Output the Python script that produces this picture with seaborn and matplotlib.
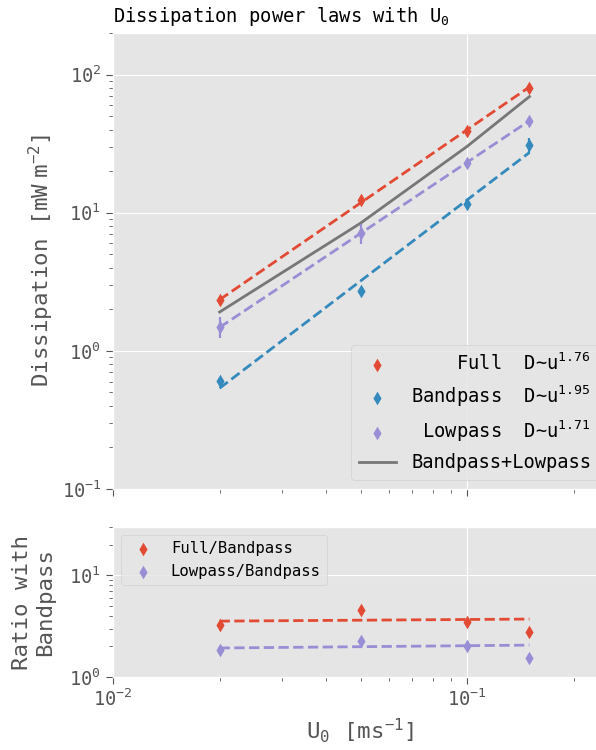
import numpy as np
import matplotlib
matplotlib.use("Agg")
import matplotlib.pyplot as plt
import seaborn as sns

# Mean flow speed U0 [m/s]
u0 = [0.02, 0.05, 0.10, 0.15]

# Dissipation [mW m^-2] per band
full = [2.33, 12.3, 38.8, 80.5]
bandpass = [0.607, 2.71, 11.5, 30.7]
lowpass = [1.49, 7.11, 22.8, 46.5]
full_err = [0.10, 0.5, 1.5, 4.0]
bandpass_err = [0.03, 0.15, 0.5, 3.8]
lowpass_err = [0.26, 1.2, 1.0, 2.0]
band_plus_low = [1.91, 8.4, 30.2, 69.3]

# Power-law exponents D ~ u^b
exp_full = 1.76
exp_bandpass = 1.95
exp_lowpass = 1.71

# Ratios relative to the bandpass dissipation
ratio_full = [3.28, 4.53, 3.47, 2.77]
ratio_low = [1.83, 2.26, 2.00, 1.55]
ratio_u = [0.02, 0.15]
ratio_full_fit = [3.55, 3.72]
ratio_low_fit = [1.93, 2.06]

labels_top = ["    Full  D~u$^{1.76}$",
              "Bandpass  D~u$^{1.95}$",
              " Lowpass  D~u$^{1.71}$",
              "Bandpass+Lowpass"]
labels_bottom = ["Full/Bandpass", "Lowpass/Bandpass"]

plt.style.use("ggplot")
plt.rcParams["font.family"] = ["DejaVu Sans Mono", "DejaVu Sans"]
plt.rcParams["font.size"] = 13.5
plt.rcParams["mathtext.default"] = "regular"
plt.rcParams["xtick.major.size"] = 5
plt.rcParams["ytick.major.size"] = 5
plt.rcParams["xtick.minor.size"] = 2.7
plt.rcParams["ytick.minor.size"] = 2.7

c_full, c_band, c_low, c_sum = "#E24A33", "#348ABD", "#988ED5", "#777777"


def power_fit(x, y, b):
    """Line D = A u^b with A chosen by least squares in log space."""
    lx, ly = np.log10(x), np.log10(y)
    a = np.mean(ly) - b * np.mean(lx)
    xs = np.array([min(x), max(x)])
    return xs, 10 ** (a + b * np.log10(xs))


fig = plt.figure(figsize=(5.96, 7.5), dpi=100)
ax1 = fig.add_axes([113 / 596, 261 / 750, 495 / 596, 456 / 750])
ax2 = fig.add_axes([113 / 596, 73 / 750, 495 / 596, 150 / 750], sharex=ax1)

for ax in (ax1, ax2):
    ax.set_xscale("log")
    ax.set_yscale("log")

ms = 48
handles = []
series = [(full, full_err, exp_full, c_full),
          (bandpass, bandpass_err, exp_bandpass, c_band),
          (lowpass, lowpass_err, exp_lowpass, c_low)]
for vals, err, b, col in series:
    xs, ys = power_fit(u0, vals, b)
    sns.lineplot(x=xs, y=ys, ax=ax1, color=col, linestyle="--", lw=2, zorder=2)
    ax1.errorbar(u0, vals, yerr=err, fmt="none", ecolor=col, elinewidth=1.6,
                 zorder=3)
    sns.scatterplot(x=u0, y=vals, ax=ax1, marker="d", s=ms, color=col,
                    linewidth=0, zorder=4)
    handles.append(ax1.collections[-1])

sns.lineplot(x=u0, y=band_plus_low, ax=ax1, color=c_sum, lw=2, zorder=2)
handles.append(ax1.lines[-1])

ax1.set_xlim(0.01, 0.25)
ax1.set_ylim(0.1, 200)
ax1.set_ylabel("Dissipation [mW$\\;$m$^{-2}$]", color="#555555")
ax1.set_title("Dissipation power laws with U$_0$", loc="left",
              fontsize=13.5, color="black", pad=8)
ax1.tick_params(labelbottom=False)
ax1.legend(handles, labels_top, loc="lower right", fontsize=13.5)

# Ratio panel
for vals, fit, col in [(ratio_full, ratio_full_fit, c_full),
                       (ratio_low, ratio_low_fit, c_low)]:
    sns.lineplot(x=ratio_u, y=fit, ax=ax2, color=col, linestyle="--", lw=2,
                 zorder=2)
h2 = []
for vals, col in [(ratio_full, c_full), (ratio_low, c_low)]:
    sns.scatterplot(x=u0, y=vals, ax=ax2, marker="d", s=ms, color=col,
                    linewidth=0, zorder=4)
    h2.append(ax2.collections[-1])

ax2.set_ylim(1, 30)
ax2.set_xlim(0.01, 0.25)
ax2.set_ylabel("Ratio with\nBandpass", color="#555555", labelpad=10)
ax2.set_xlabel("U$_0$ [ms$^{-1}$]", color="#555555")
ax2.legend(h2, labels_bottom, loc="upper left", fontsize="small")

for ax in (ax1, ax2):
    ax.grid(True, which="major", color="white")
    ax.grid(False, which="minor")

fig.savefig("out.png", dpi=100)
